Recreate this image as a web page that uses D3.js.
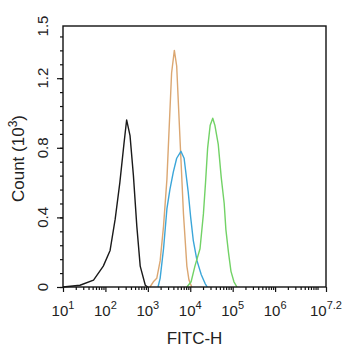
<!DOCTYPE html>
<html>
<head>
<meta charset="utf-8">
<script src="https://cdn.jsdelivr.net/npm/d3@7"></script>
<style>
  html, body { margin: 0; padding: 0; background: #fff; }
  svg { display: block; font-family: "Liberation Sans", Arial, sans-serif; }
</style>
</head>
<body>
<svg id="chart" width="342" height="350"></svg>
<script>
// Flow cytometry overlay: FITC-H histograms (log10 of channel value vs count in thousands)
const blackLog   = [1.00, 1.40, 1.72, 1.95, 2.11, 2.23, 2.34, 2.44, 2.50, 2.58, 2.66, 2.74, 2.82, 2.94, 3.00];
const blackCount = [0.00, 0.01, 0.04, 0.12, 0.21, 0.39, 0.60, 0.83, 0.96, 0.87, 0.64, 0.35, 0.12, 0.01, 0.00];

const orangeLog   = [3.05, 3.13, 3.21, 3.29, 3.37, 3.45, 3.50, 3.56, 3.625, 3.68, 3.76, 3.84, 3.92, 3.97, 4.035];
const orangeCount = [0.00, 0.03, 0.05, 0.15, 0.35, 0.62, 0.90, 1.23, 1.36, 1.27, 0.84, 0.42, 0.12, 0.04, 0.00];

const blueLog   = [3.24, 3.29, 3.37, 3.45, 3.52, 3.60, 3.68, 3.78, 3.855, 3.95, 4.01, 4.07, 4.16, 4.26, 4.35, 4.40];
const blueCount = [0.00, 0.05, 0.22, 0.45, 0.56, 0.66, 0.74, 0.78, 0.74, 0.55, 0.40, 0.27, 0.15, 0.07, 0.02, 0.00];

const greenLog   = [3.92, 4.02, 4.11, 4.23, 4.31, 4.36, 4.41, 4.47, 4.53, 4.58, 4.66, 4.73, 4.80, 4.84, 4.90, 4.96, 5.03, 5.10];
const greenCount = [0.00, 0.03, 0.12, 0.22, 0.42, 0.60, 0.80, 0.93, 0.97, 0.93, 0.82, 0.63, 0.48, 0.33, 0.20, 0.09, 0.03, 0.00];

const xTickExponents = ["1", "2", "3", "4", "5", "6", "7.2"];
const yTickLabels = ["0", "0.4", "0.8", "1.2", "1.5"];

const series = [
  { log: blackLog,  count: blackCount,  color: "#1a1a1a" },
  { log: orangeLog, count: orangeCount, color: "#dba772" },
  { log: blueLog,   count: blueCount,   color: "#3ba6d9" },
  { log: greenLog,  count: greenCount,  color: "#72d266" }
];

const svg = d3.select("#chart");
const m = { left: 63, right: 16, top: 26, bottom: 63 };
const W = 342, H = 350;

const x = d3.scaleLog().domain([10, Math.pow(10, 7.2)]).range([m.left, W - m.right]);
const y = d3.scaleLinear().domain([0, 1.5]).range([H - m.bottom, m.top]);

// Histogram traces
const line = d3.line()
  .x(d => x(Math.pow(10, d[0])))
  .y(d => y(d[1]));

series.forEach(s => {
  svg.append("path")
    .datum(s.log.map((v, i) => [v, s.count[i]]))
    .attr("fill", "none")
    .attr("stroke", s.color)
    .attr("stroke-width", 1.4)
    .attr("stroke-linejoin", "round")
    .attr("d", line);
});

// Frame
svg.append("rect")
  .attr("x", m.left).attr("y", m.top)
  .attr("width", W - m.right - m.left).attr("height", H - m.bottom - m.top)
  .attr("fill", "none").attr("stroke", "#111").attr("stroke-width", 1.4);

// X axis: decade ticks, minor ticks, labels with superscripts
const xMajor = xTickExponents.map(e => Math.pow(10, +e));
const xMinor = [];
for (let d = 1; d <= 6; d++) for (let k = 2; k <= 9; k++) xMinor.push(k * Math.pow(10, d));
xMinor.push(Math.pow(10, 7));

const gx = svg.append("g").attr("transform", `translate(0,${H - m.bottom})`);
gx.call(d3.axisBottom(x).tickValues(xMinor).tickSize(3).tickFormat(""))
  .call(g => g.select(".domain").remove());
const gxMaj = svg.append("g").attr("transform", `translate(0,${H - m.bottom})`);
gxMaj.call(d3.axisBottom(x).tickValues(xMajor).tickSize(5).tickFormat(""))
  .call(g => g.select(".domain").remove());
svg.selectAll(".tick line").attr("stroke", "#111").attr("stroke-width", 1.2);

xTickExponents.forEach((e, i) => {
  const t = svg.append("text")
    .attr("x", x(xMajor[i]))
    .attr("y", 316)
    .attr("text-anchor", "middle")
    .attr("font-size", 15)
    .attr("fill", "#222");
  t.append("tspan").text("10");
  t.append("tspan").attr("dy", -7).attr("font-size", 11).text(e);
});

// Y axis: major ticks with rotated labels, minor ticks
const yMajor = yTickLabels.map(Number);
const yMinor = d3.range(0, 1.5, 0.08);
const gy = svg.append("g").attr("transform", `translate(${m.left},0)`);
gy.call(d3.axisLeft(y).tickValues(yMinor).tickSize(3).tickFormat(""))
  .call(g => g.select(".domain").remove());
const gyMaj = svg.append("g").attr("transform", `translate(${m.left},0)`);
gyMaj.call(d3.axisLeft(y).tickValues(yMajor.slice(0, 4)).tickSize(6).tickFormat(""))
  .call(g => g.select(".domain").remove());
svg.selectAll(".tick line").attr("stroke", "#111").attr("stroke-width", 1.2);

yTickLabels.forEach((lab, i) => {
  svg.append("text")
    .attr("transform", `translate(48,${y(yMajor[i])}) rotate(-90)`)
    .attr("text-anchor", "middle")
    .attr("font-size", 15)
    .attr("fill", "#222")
    .text(lab);
});

// Axis titles
svg.append("text")
  .attr("x", (m.left + W - m.right) / 2)
  .attr("y", 344)
  .attr("text-anchor", "middle")
  .attr("font-size", 17)
  .attr("fill", "#222")
  .text("FITC-H");

const yt = svg.append("text")
  .attr("transform", `translate(24,${(m.top + H - m.bottom) / 2 + 2}) rotate(-90)`)
  .attr("text-anchor", "middle")
  .attr("font-size", 17)
  .attr("fill", "#222");
yt.append("tspan").text("Count (10");
yt.append("tspan").attr("dy", -7).attr("font-size", 12).text("3");
yt.append("tspan").attr("dy", 7).text(")");
</script>
</body>
</html>
